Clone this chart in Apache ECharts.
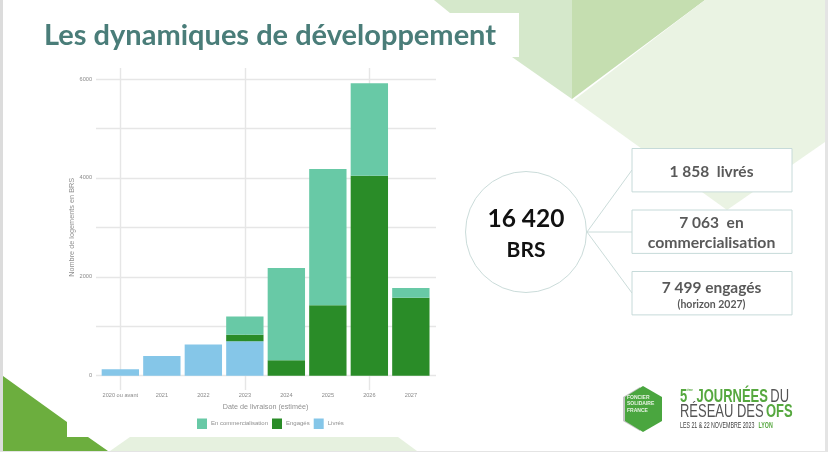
<!DOCTYPE html>
<html><head><meta charset="utf-8">
<style>html,body{margin:0;padding:0;background:#fff}#c{width:828px;height:452px}</style>
<script src="https://cdn.jsdelivr.net/npm/echarts@6/dist/echarts.min.js"></script>
</head><body><div id="c"></div>
<script>
const categories = ['2020 ou avant','2021','2022','2023','2024','2025','2026','2027'];
const livres = [130,400,630,698,0,0,0,0];
const engages = [0,0,0,130,310,1423,4045,1578];
const commercialisation = [0,0,0,370,1868,2757,1869,195];
const GRID='#e6e6e6', TICK='#8a8a8a', SANS='"Liberation Sans",Arial,sans-serif', CAL='Lato,"Open Sans",sans-serif';
const poly=(points,fill,z)=>({type:'polygon',shape:{points},style:{fill},z,silent:true});
const line=(x1,y1,x2,y2)=>({type:'line',shape:{x1,y1,x2,y2},style:{stroke:'#cbdcda',lineWidth:1},z:5});
const box=(y)=>({type:'rect',shape:{x:632,y,width:160,height:43.4},style:{fill:'#fff',stroke:'#c6dad9',lineWidth:1},z:5});
const txt=(text,x,y,size,color,weight,font,align)=>({type:'text',x,y,z:8,style:{text,fill:color,font:`${weight||'normal'} ${size}px ${font||CAL}`,textAlign:align||'center',textVerticalAlign:'middle'}});
const graphic=[
 poly([[434,0],[450,13],[519,13],[519,57],[512,57],[572,99],[572,0]],'#d5e8cb',1),
 poly([[572,0],[705,0],[572,99]],'#c5deb0',1),
 poly([[705,0],[825,0],[825,142],[727,210],[574,100]],'#eaf3e3',1),
 {type:'rect',shape:{x:0,y:0,width:3,height:452},style:{fill:'#dcdcdc'},z:2},
 {type:'rect',shape:{x:825,y:0,width:3,height:452},style:{fill:'#e4e4e4'},z:2},
 {type:'rect',shape:{x:0,y:451,width:828,height:1},style:{fill:'#e4e4e4'},z:2},
 poly([[3,376],[67,422],[67,437],[88,437],[108,451],[3,451]],'#6cae3e',3),
 poly([[130,437],[398,437],[417,451],[110,451]],'#e6f1df',3),
 txt('Les dynamiques de développement',44,36,29,'#4a7d79','bold',CAL,'left'),
 line(587,232,632,170),line(587,232,632,232),line(587,232,632,293),
 {type:'circle',shape:{cx:526,cy:232,r:60.5},style:{fill:'#fff',stroke:'#cbdcda',lineWidth:1},z:6},
 box(148.5),box(210),box(271.5),
 txt('16 420',526,219,24.5,'#111','bold'),
 txt('BRS',526,250,21,'#111','bold'),
 txt('1 858  livrés',711.5,172,15.5,'#595959','bold'),
 txt('7 063  en',711.5,223,15.5,'#595959','bold'),
 txt('commercialisation',711.5,243,15.8,'#595959','bold'),
 txt('7 499 engagés',711.5,288,15.5,'#595959','bold'),
 txt('(horizon 2027)',711.5,305,10.5,'#595959','bold'),
 poly([[623,397],[640,387],[640,431],[623,421]],'#c4c4c4',5),
 poly([[643,386],[662,397],[662,421],[643,432],[625,421],[625,397]],'#4aa63f',6),
 txt('FONCIER',627,398,5,'#e8f3e4','bold',SANS,'left'),
 txt('SOLIDAIRE',627,404,5,'#e8f3e4','bold',SANS,'left'),
 txt('FRANCE',627,411,5,'#e8f3e4','bold',SANS,'left'),
 {type:'text',x:680,y:397,z:8,scaleX:0.72,style:{text:'{g|5}{s|ème}{g| JOURNÉES} {d|DU}',textVerticalAlign:'middle',rich:{
   g:{font:`bold 18px ${SANS}`,fill:'#56a83f'},s:{font:`bold 4px ${SANS}`,fill:'#56a83f',verticalAlign:'top'},d:{font:`normal 18px ${SANS}`,fill:'#555'}}}},
 {type:'text',x:680,y:412,z:8,scaleX:0.72,style:{text:'{d|RÉSEAU DES} {g|OFS}',textVerticalAlign:'middle',rich:{
   g:{font:`bold 18px ${SANS}`,fill:'#56a83f'},d:{font:`normal 18px ${SANS}`,fill:'#555'}}}},
 {type:'text',x:680,y:426,z:8,scaleX:0.62,style:{text:'{d|LES 21 & 22 NOVEMBRE 2023}  {g|LYON}',textVerticalAlign:'middle',rich:{
   g:{font:`bold 8.5px ${SANS}`,fill:'#56a83f'},d:{font:`normal 8.5px ${SANS}`,fill:'#444'}}}}
];
const chart=echarts.init(document.getElementById('c'),null,{renderer:'canvas'});
const barSeries=(name,data,color)=>({name,type:'bar',stack:'t',data,xAxisIndex:2,yAxisIndex:2,barWidth:'90%',itemStyle:{color},z:3,silent:true});
chart.setOption({
 animation:false,backgroundColor:'#fff',graphic,
 grid:[
  {left:120.3,width:290.4,top:68,height:322},
  {left:96,width:340,top:79,height:296.7},
  {left:99.6,width:332,top:79,height:296.7}
 ],
 xAxis:[
  {gridIndex:0,type:'category',data:categories,boundaryGap:false,axisLine:{show:false},axisTick:{show:false},axisLabel:{show:false},splitLine:{show:true,lineStyle:{color:GRID,width:1.4}}},
  {gridIndex:1,type:'category',data:categories,show:false},
  {gridIndex:2,type:'category',data:categories,axisLine:{show:false},axisTick:{show:false},
   axisLabel:{interval:0,margin:17,color:TICK,fontSize:5.6,fontFamily:SANS},
   name:'Date de livraison (estimée)',nameLocation:'middle',nameGap:26,nameTextStyle:{color:'#8f8f8f',fontSize:7.2,fontFamily:SANS}}
 ],
 yAxis:[
  {gridIndex:0,type:'value',min:0,max:1,show:false,splitLine:{show:false}},
  {gridIndex:1,type:'value',min:0,max:6000,interval:1000,axisLine:{show:false},axisTick:{show:false},
   axisLabel:{margin:4,color:TICK,fontSize:5.6,fontFamily:SANS,formatter:v=>v%2000===0?String(v):''},
   splitLine:{show:true,lineStyle:{color:GRID,width:1.4}},
   name:'Nombre de logements en BRS',nameLocation:'middle',nameRotate:90,nameGap:19,nameTextStyle:{color:'#8f8f8f',fontSize:7.3,fontFamily:SANS}},
  {gridIndex:2,type:'value',min:0,max:6000,interval:1000,show:false,splitLine:{show:false}}
 ],
 legend:{left:197,top:418.5,padding:0,itemWidth:10,itemHeight:10.5,itemGap:4,icon:'rect',selectedMode:false,
  data:['En commercialisation','Engagés','Livrés'],
  textStyle:{color:'#8f8f8f',fontSize:6,fontFamily:SANS,padding:[0,0,0,-1]}},
 series:[
  barSeries('Livrés',livres,'#85c6e8'),
  barSeries('Engagés',engages,'#2a8c28'),
  barSeries('En commercialisation',commercialisation,'#68c9a6')
 ]
});
</script></body></html>
